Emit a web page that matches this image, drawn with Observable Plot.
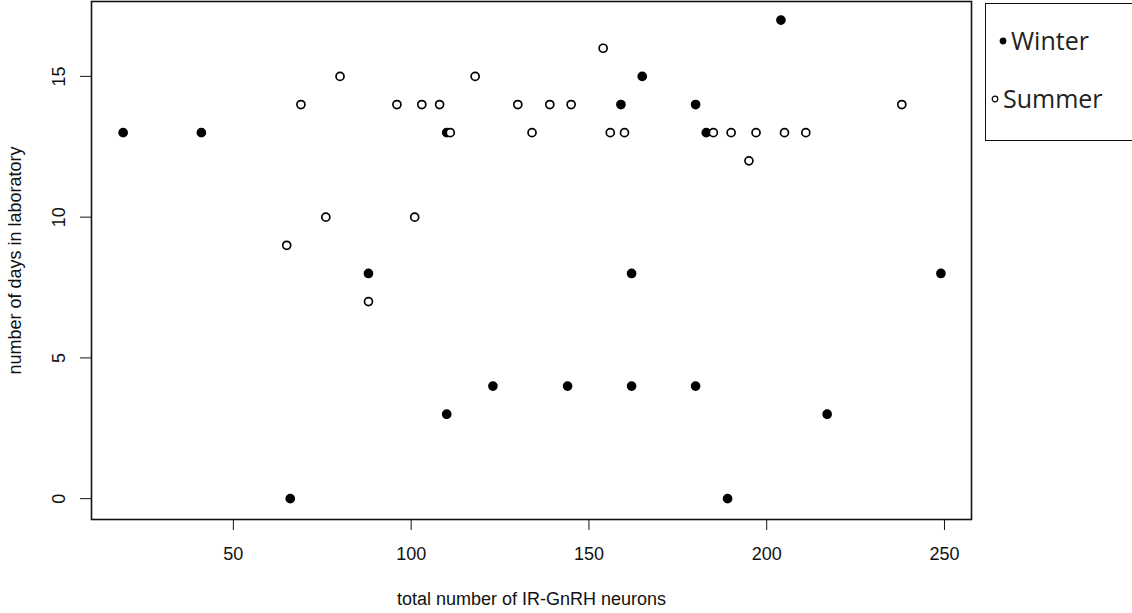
<!DOCTYPE html>
<html>
<head>
<meta charset="utf-8">
<script src="https://cdn.jsdelivr.net/npm/d3@7"></script>
<script src="https://cdn.jsdelivr.net/npm/@observablehq/plot@0.6"></script>
<style>
  body { margin: 0; background: #fff; }
  #wrap { position: relative; width: 1132px; height: 613px; overflow: hidden; background: #fff; }
  #wrap > svg { position: absolute; left: 0; top: 0; }
  #legend { position: absolute; left: 985px; top: 3px; width: 160px; height: 136px; border: 1.5px solid #111; background: #fff;
            font-family: "Open Sans", sans-serif; font-size: 25px; color: #222; }
  .item { position: absolute; display: flex; align-items: center; white-space: nowrap; line-height: 1; }
  .item svg { display: block; }
</style>
</head>
<body>
<div id="wrap"></div>
<script>
// ---- data ----
const winterX = [19, 41, 165, 159, 110, 204, 180, 183, 88, 123, 110, 66, 162, 249, 144, 162, 180, 189, 217];
const winterY = [13, 13, 15, 14, 13, 17, 14, 13, 8, 4, 3, 0, 8, 8, 4, 4, 4, 0, 3];
const summerX = [80, 69, 76, 65, 154, 118, 96, 103, 108, 130, 139, 145, 111, 134, 156, 160, 101, 185, 190, 197, 205, 211, 195, 238, 88];
const summerY = [15, 14, 10, 9, 16, 15, 14, 14, 14, 14, 14, 14, 13, 13, 13, 13, 10, 13, 13, 13, 13, 13, 12, 14, 7];
const seasons = ["Winter", "Summer"];
const xTicks = [50, 100, 150, 200, 250];
const yTicks = [0, 5, 10, 15];
const xLabel = "total number of IR-GnRH neurons";
const yLabel = "number of days in laboratory";

const rows = [
  ...winterX.map((x, i) => ({x, y: winterY[i], season: "Winter"})),
  ...summerX.map((x, i) => ({x, y: summerY[i], season: "Summer"}))
];

const font = "'Liberation Sans', Arial, Helvetica, sans-serif";

const chart = Plot.plot({
  width: 1132,
  height: 613,
  marginLeft: 91,
  marginRight: 161,
  marginTop: 1,
  marginBottom: 94,
  style: {fontFamily: font, fontSize: "18px", color: "#111", background: "#fff"},
  x: {domain: [10.1, 257.6]},
  y: {domain: [-0.74, 17.66]},
  marks: [
    Plot.frame({stroke: "#111", strokeWidth: 1.6}),
    Plot.axisX(xTicks, {tickSize: 11, tickPadding: 17, fontSize: 18, label: null, stroke: "#111"}),
    Plot.axisY(yTicks, {tickSize: 11, tickFormat: () => "", label: null, stroke: "#111"}),
    Plot.text(yTicks, {y: d => d, text: d => String(d), frameAnchor: "left", dx: -32, rotate: -90,
                       textAnchor: "middle", lineAnchor: "middle", fontSize: 18, fill: "#111"}),
    Plot.text([xLabel], {text: d => d, frameAnchor: "bottom", dy: 80, textAnchor: "middle",
                         lineAnchor: "middle", fontSize: 18, fill: "#111"}),
    Plot.text([yLabel], {text: d => d, frameAnchor: "left", dx: -76, rotate: -90, textAnchor: "middle",
                         lineAnchor: "middle", fontSize: 18, fill: "#111"}),
    Plot.dot(rows, {x: "x", y: "y", r: 4,
                    fill: d => d.season === "Winter" ? "#000" : "#fff",
                    stroke: "#000", strokeWidth: 1.7})
  ]
});

const wrap = document.getElementById("wrap");
wrap.appendChild(chart);

// legend (HTML, outside the SVG)
const legend = document.createElement("div");
legend.id = "legend";
const items = [
  {label: seasons[0], left: 12, top: 40, fill: "#000"},
  {label: seasons[1], left: 4, top: 98, fill: "#fff"}
];
for (const it of items) {
  const d = document.createElement("div");
  d.className = "item";
  d.style.left = it.left + "px";
  d.style.top = (it.top - 16) + "px";
  d.innerHTML = `<svg width="10" height="10" style="margin-right:3px"><circle cx="5" cy="5" r="2.8" fill="${it.fill}" stroke="#000" stroke-width="1.2"/></svg><span>${it.label}</span>`;
  legend.appendChild(d);
}
wrap.appendChild(legend);
</script>
</body>
</html>
